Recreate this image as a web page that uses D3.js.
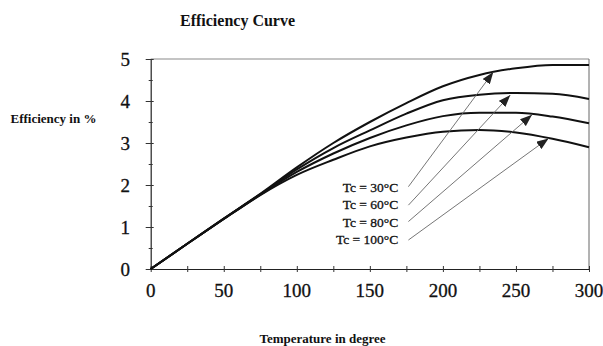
<!DOCTYPE html>
<html>
<head>
<meta charset="utf-8">
<script src="https://d3js.org/d3.v7.min.js"></script>
<style>
    body { margin: 0; background: #fff; }
    svg { font-family: "Liberation Serif", "Times New Roman", serif; }
    .curve { fill: none; stroke: #111; stroke-width: 2; }
    .tick-label { font-size: 19px; fill: #111; stroke: #111; stroke-width: 0.3; }
    .title { font-size: 16px; font-weight: bold; fill: #111; }
    .axis-title { font-size: 13px; font-weight: bold; fill: #111; }
    .tc-label { font-size: 13.5px; fill: #111; stroke: #111; stroke-width: 0.3; }
</style>
</head>
<body>
<div id="chart"></div>
<script>
// temperature (x) sample points
var temps = [0, 25, 50, 75, 100, 125, 150, 175, 200, 225, 250, 275, 300];

// efficiency in % for each collector temperature
var eff30  = [0, 0.60, 1.20, 1.79, 2.42, 3.00, 3.50, 3.95, 4.35, 4.62, 4.78, 4.86, 4.86];
var eff60  = [0, 0.60, 1.20, 1.78, 2.37, 2.88, 3.30, 3.70, 4.02, 4.15, 4.19, 4.17, 4.05];
var eff80  = [0, 0.60, 1.19, 1.77, 2.31, 2.75, 3.12, 3.42, 3.64, 3.72, 3.72, 3.63, 3.47];
var eff100 = [0, 0.60, 1.19, 1.76, 2.24, 2.60, 2.92, 3.13, 3.27, 3.31, 3.25, 3.10, 2.90];

var seriesNames = ["Tc = 30°C", "Tc = 60°C", "Tc = 80°C", "Tc = 100°C"];

// label anchors, arrow tails and arrow tips (data units)
var labelPos = [[169.4, 1.83], [169.4, 1.42], [169.4, 1.01], [169.4, 0.595]];
var arrowFrom = [[176.4, 1.96], [176.4, 1.52], [176.4, 1.13], [176.4, 0.69]];
var arrowTo = [[234.5, 4.69], [246.1, 4.14], [261.0, 3.67], [272.3, 3.11]];

var xTicks = [0, 50, 100, 150, 200, 250, 300];
var yTicks = [0, 1, 2, 3, 4, 5];

var W = 603, H = 346;
var plotLeft = 150.7, plotRight = 589, plotTop = 59, plotBottom = 269;

var svg = d3.select("#chart").append("svg")
    .attr("width", W)
    .attr("height", H);

svg.append("rect").attr("width", W).attr("height", H).attr("fill", "#fff");

var x = d3.scaleLinear().domain([0, 300]).range([plotLeft, plotRight]);
var y = d3.scaleLinear().domain([0, 5]).range([plotBottom, plotTop]);

// arrow marker
svg.append("defs").append("marker")
    .attr("id", "head")
    .attr("viewBox", "0 0 12 9")
    .attr("refX", 12)
    .attr("refY", 4.5)
    .attr("markerWidth", 12)
    .attr("markerHeight", 9)
    .attr("markerUnits", "userSpaceOnUse")
    .attr("orient", "auto")
    .append("path")
    .attr("d", "M0,0 L12,4.5 L0,9 Z")
    .attr("fill", "#222");

// frame: top and right borders
svg.append("line")
    .attr("x1", x(0)).attr("x2", x(300))
    .attr("y1", y(5)).attr("y2", y(5))
    .attr("stroke", "#8a8a8a").attr("stroke-width", 1.2);
svg.append("line")
    .attr("x1", x(300)).attr("x2", x(300))
    .attr("y1", y(5)).attr("y2", y(0))
    .attr("stroke", "#666").attr("stroke-width", 1);

// axes
var xAxis = d3.axisBottom(x).tickValues(d3.range(0, 301, 25))
    .tickSize(3).tickSizeOuter(0).tickFormat("");
var gx = svg.append("g")
    .attr("transform", `translate(0, ${y(0)})`)
    .call(xAxis);
gx.selectAll(".tick line").attr("y1", -3).attr("y2", 3);

var yAxis = d3.axisLeft(y).tickValues(d3.range(0, 5.01, 0.5))
    .tickSize(3).tickSizeOuter(0).tickFormat("");
var gy = svg.append("g")
    .attr("transform", `translate(${x(0)}, 0)`)
    .call(yAxis);
gy.selectAll(".tick line")
    .attr("x1", d => Number.isInteger(d) ? 3 : 2)
    .attr("x2", d => Number.isInteger(d) ? -5 : -2);

svg.selectAll(".domain").attr("stroke", "#222").attr("stroke-width", 1.2);
svg.selectAll(".tick line").attr("stroke", "#333");

// tick labels
svg.selectAll(".xlab")
    .data(xTicks).enter()
    .append("text")
    .attr("class", "tick-label")
    .attr("x", d => x(d))
    .attr("y", 297)
    .attr("text-anchor", "middle")
    .text(d => d);

svg.selectAll(".ylab")
    .data(yTicks).enter()
    .append("text")
    .attr("class", "tick-label")
    .attr("x", 130)
    .attr("y", d => y(d) + 6.5)
    .attr("text-anchor", "end")
    .text(d => d);

// curves
var all = [eff30, eff60, eff80, eff100];
var line = d3.line()
    .x((d, i) => x(temps[i]))
    .y(d => y(d))
    .curve(d3.curveMonotoneX);

svg.selectAll(".curve")
    .data(all).enter()
    .append("path")
    .attr("class", "curve")
    .attr("d", d => line(d));

// arrows
svg.selectAll(".arrow")
    .data(seriesNames).enter()
    .append("line")
    .attr("x1", (d, i) => x(arrowFrom[i][0]))
    .attr("y1", (d, i) => y(arrowFrom[i][1]))
    .attr("x2", (d, i) => x(arrowTo[i][0]))
    .attr("y2", (d, i) => y(arrowTo[i][1]))
    .attr("stroke", "#666")
    .attr("stroke-width", 0.9)
    .attr("marker-end", "url(#head)");

svg.selectAll(".tc-label")
    .data(seriesNames).enter()
    .append("text")
    .attr("class", "tc-label")
    .attr("x", (d, i) => x(labelPos[i][0]))
    .attr("y", (d, i) => y(labelPos[i][1]))
    .attr("text-anchor", "end")
    .text(d => d);

// titles
svg.append("text")
    .attr("class", "title")
    .attr("x", 237.5).attr("y", 26)
    .attr("text-anchor", "middle")
    .text("Efficiency Curve");

svg.append("text")
    .attr("class", "axis-title")
    .attr("x", 10.5).attr("y", 122.5)
    .text("Efficiency in %");

svg.append("text")
    .attr("class", "axis-title")
    .attr("x", 322.5).attr("y", 343)
    .attr("text-anchor", "middle")
    .text("Temperature in degree");
</script>
</body>
</html>
